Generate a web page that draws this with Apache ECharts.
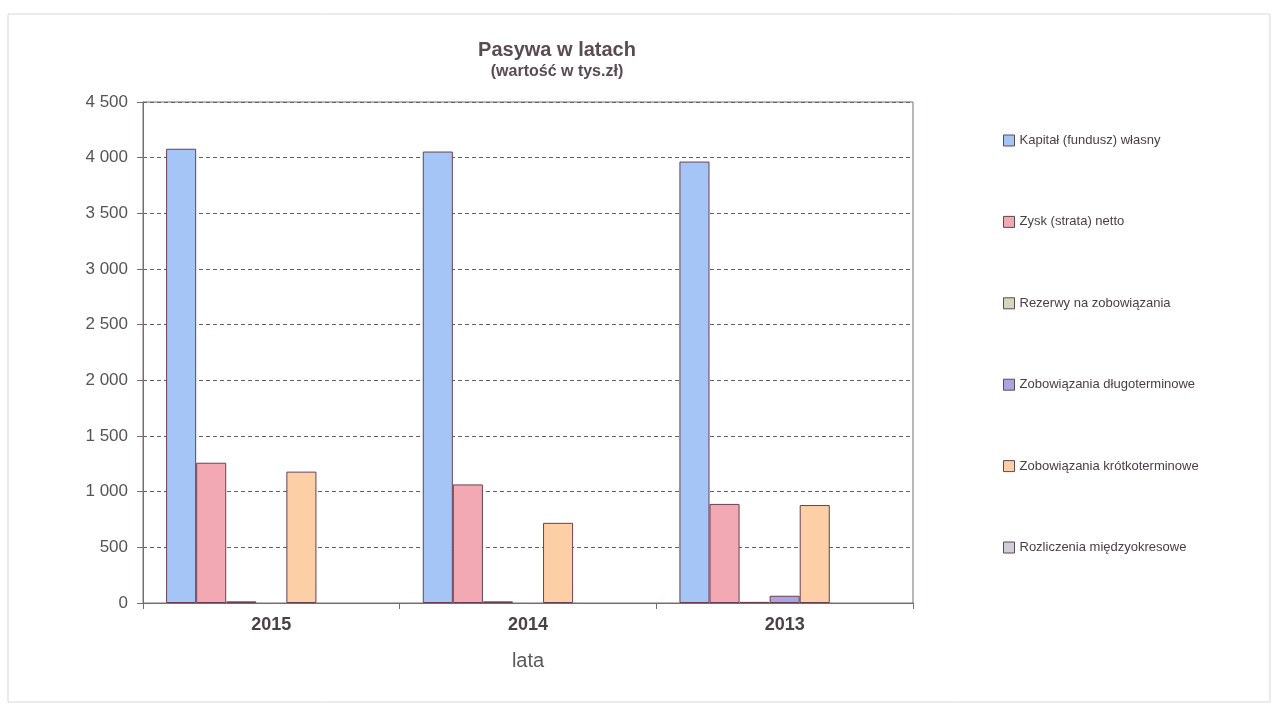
<!DOCTYPE html>
<html>
<head>
<meta charset="utf-8">
<script src="https://cdn.jsdelivr.net/npm/echarts@6/dist/echarts.min.js"></script>
<style>
html,body{margin:0;padding:0;background:#fff;}
#c{width:1278px;height:711px;}
</style>
</head>
<body>
<div id="c"></div>
<script>
const categories = ['2015', '2014', '2013'];
const seriesNames = [
  'Kapitał (fundusz) własny',
  'Zysk (strata) netto',
  'Rezerwy na zobowiązania',
  'Zobowiązania długoterminowe',
  'Zobowiązania krótkoterminowe',
  'Rozliczenia międzyokresowe'
];
const kapital = [4080, 4055, 3965];
const zysk = [1260, 1065, 890];
const rezerwy = [15, 15, 10];
const dlugoterminowe = [0, 0, 65];
const krotkoterminowe = [1180, 720, 880];
const rozliczenia = [0, 0, 0];
const yTicks = [0, 500, 1000, 1500, 2000, 2500, 3000, 3500, 4000, 4500];

const values = [kapital, zysk, rezerwy, dlugoterminowe, krotkoterminowe, rozliczenia];
const colors = ['#a6c5f7', '#f2a9b4', '#d6d6bc', '#a8a5e0', '#fccfa6', '#d0cdd6'];
const textColor = '#4a3d44';
const lineColor = '#7a6a72';
const FONT = 'Liberation Sans, Arial, sans-serif';

const fmt = v => {
  const s = String(v);
  return s.length > 3 ? s.slice(0, s.length - 3) + ' ' + s.slice(-3) : s;
};

const series = seriesNames.map((n, i) => ({
  name: n,
  type: 'bar',
  data: values[i].map(v => ({ value: v, itemStyle: { borderWidth: v ? 1 : 0 } })),
  barGap: '0%',
  barCategoryGap: '18%',
  itemStyle: { color: colors[i], borderColor: '#6a4050', borderWidth: 1 }
}));
// empty trailing slot (as in the original spreadsheet chart layout)
series.push({ name: '_pad', type: 'bar', data: categories.map(() => null), barGap: '0%', barCategoryGap: '18%' });

const chart = echarts.init(document.getElementById('c'));
chart.setOption({
  backgroundColor: '#fff',
  animation: false,
  textStyle: { fontFamily: FONT },
  graphic: [{
    type: 'rect',
    shape: { x: 8, y: 14, width: 1262, height: 688 },
    style: { fill: 'none', stroke: '#d8d8d8', lineWidth: 1 },
    silent: true
  }],
  title: {
    text: 'Pasywa w latach',
    subtext: '(wartość w tys.zł)',
    left: 552,
    textAlign: 'center',
    top: 35,
    itemGap: 4,
    textStyle: { fontSize: 20, fontWeight: 'bold', color: '#5a4a52', fontFamily: FONT },
    subtextStyle: { fontSize: 16, fontWeight: 'bold', color: '#5a4a52', fontFamily: FONT }
  },
  legend: {
    orient: 'vertical',
    left: 998,
    top: 129,
    itemGap: 68.4,
    itemWidth: 11,
    itemHeight: 11,
    icon: 'rect',
    textStyle: { fontSize: 13, color: textColor, fontFamily: FONT },
    itemStyle: { borderColor: '#5a4a52', borderWidth: 1 },
    data: seriesNames
  },
  grid: {
    left: 143, right: 365, top: 102, bottom: 108,
    show: true, borderColor: lineColor, borderWidth: 1, backgroundColor: 'transparent'
  },
  xAxis: {
    type: 'category',
    data: categories,
    name: 'lata',
    nameLocation: 'middle',
    nameGap: 48,
    nameTextStyle: { fontSize: 20, color: '#5a5a5a' },
    axisLine: { lineStyle: { color: lineColor } },
    axisTick: { show: true, length: 6, lineStyle: { color: lineColor } },
    axisLabel: { fontSize: 18, fontWeight: 'bold', color: '#4a4048', margin: 13 },
    splitLine: { show: false }
  },
  yAxis: {
    type: 'value',
    min: 0, max: 4500, interval: 500,
    axisLine: { show: true, lineStyle: { color: lineColor } },
    axisTick: { show: true, length: 6, lineStyle: { color: lineColor } },
    axisLabel: { fontSize: 17, color: '#555', margin: 15, formatter: v => yTicks.includes(v) ? fmt(v) : '' },
    splitLine: { show: true, lineStyle: { color: '#6a5a62', type: [4, 3], width: 1 } }
  },
  series: series
});
</script>
</body>
</html>
